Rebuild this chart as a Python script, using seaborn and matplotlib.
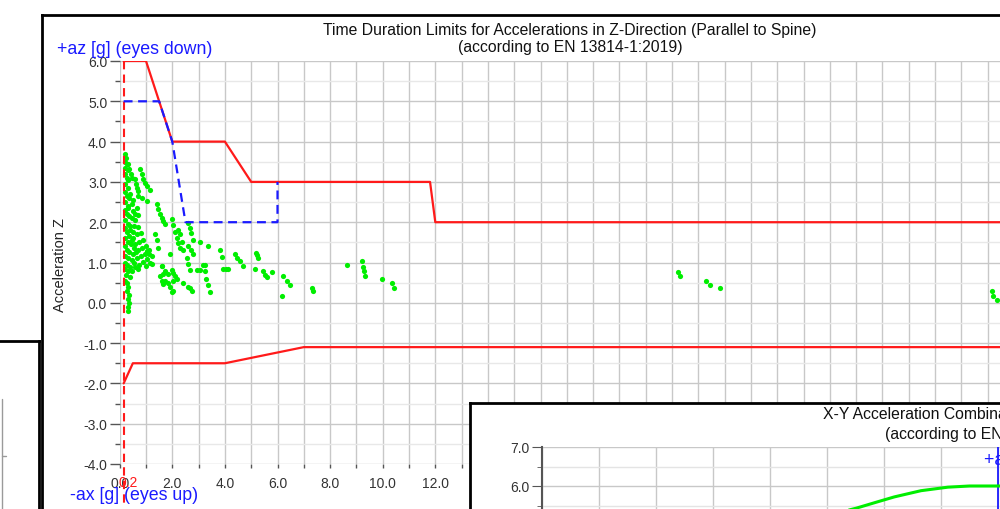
import matplotlib
matplotlib.use("Agg")
import numpy as np
import pandas as pd
import seaborn as sns
import matplotlib.pyplot as plt
from matplotlib.lines import Line2D
from matplotlib.ticker import MultipleLocator, FormatStrFormatter

sns.set_style("white")
plt.rcParams["font.family"] = ["Liberation Sans", "DejaVu Sans"]

# ---------------- data ----------------
# upper limit (solid red)
upper_t = [0.15, 1.0, 2.0, 4.0, 5.0, 11.8, 12.0, 34.5]
upper_z = [6.0, 6.0, 4.0, 4.0, 3.0, 3.0, 2.0, 2.0]
# lower limit (solid red)
lower_t = [0.15, 0.5, 4.0, 7.0, 34.5]
lower_z = [-2.0, -1.5, -1.5, -1.1, -1.1]
# reduced limit (dashed blue)
blue_t = [0.15, 1.5, 2.0, 2.5, 6.0, 6.0]
blue_z = [5.0, 5.0, 4.0, 2.0, 2.0, 3.0]
# minimum duration marker (dashed red)
tmin = 0.15

# measured accelerations (green points)
accel_t = [
    0.22, 0.25, 0.20, 0.28, 0.22, 0.30, 0.20, 0.26, 0.33, 0.22, 0.30, 0.20, 0.27, 0.35, 0.22,
    0.30, 0.20, 0.28, 0.36, 0.22, 0.30, 0.40, 0.20, 0.27, 0.35, 0.22, 0.30, 0.42, 0.20, 0.27,
    0.36, 0.22, 0.30, 0.45, 0.20, 0.28, 0.38, 0.22, 0.32, 0.25, 0.40, 0.20, 0.27, 0.32, 0.28,
    0.35, 0.33, 0.35, 0.30, 0.32,
    0.50, 0.55, 0.60, 0.48, 0.65, 0.70, 0.75, 0.55, 0.62, 0.45, 0.52, 0.58, 0.66, 0.45, 0.40, 0.50,
    0.30, 0.36, 0.42, 0.46,
    0.58, 0.62, 0.67, 0.71,
    0.77, 0.83, 0.90, 0.97, 1.05, 1.15,
    0.71, 0.85, 1.03,
    0.33, 0.50, 0.71,
    1.41, 1.47, 1.53, 1.60, 1.66, 1.72,
    0.46, 0.55, 0.65, 0.75, 0.85, 0.95, 1.05, 1.15, 1.22,
    0.40, 0.50, 0.60, 0.70, 0.80, 0.90, 1.00,
    0.60, 0.70, 0.80, 0.90, 1.00, 1.10,
    1.34, 1.40, 1.47,
    1.98, 2.03, 2.10, 2.17, 2.23, 2.29,
    2.20, 2.29, 2.35, 2.40,
    2.61, 2.66, 2.72, 2.80,
    2.61, 2.70, 2.80,
    2.55, 2.60, 2.67,
    1.91,
    1.60, 1.72, 1.85,
    2.04, 2.10, 2.17,
    1.85, 1.92, 1.98,
    2.42, 2.61, 2.67, 2.74,
    1.53, 1.60, 1.66,
    1.60, 1.66, 1.72,
    1.03, 1.12, 1.22,
    2.00, 2.02, 2.04,
    3.18, 3.24, 3.30, 3.36, 3.43, 2.93, 3.05,
    3.05, 3.37, 3.24,
    3.81, 3.88,
    3.94, 4.03, 4.13,
    4.38, 4.45, 4.57, 4.70,
    5.18, 5.22, 5.27, 5.14,
    5.46, 5.52, 5.59, 5.78,
    6.22, 6.35, 6.48, 6.16,
    7.30, 7.36,
    8.63, 9.20, 9.24, 9.28, 9.33, 9.96, 10.34, 10.44,
    21.24, 21.30, 22.29, 22.45, 22.82,
    33.16, 33.19, 33.35,
]
accel_z = [
    3.70, 3.60, 3.50, 3.45, 3.35, 3.30, 3.20, 3.10, 3.05, 2.95, 2.85, 2.75, 2.65, 2.60, 2.50,
    2.40, 2.30, 2.20, 2.15, 2.05, 1.95, 1.90, 1.85, 1.75, 1.65, 1.60, 1.50, 1.45, 1.40, 1.30,
    1.25, 1.15, 1.10, 1.05, 1.00, 0.95, 0.90, 0.85, 0.78, 0.70, 0.65, 0.55, 0.50, 0.40, 0.30,
    0.20, 0.10, 0.00, -0.10, -0.20,
    1.20, 1.00, 0.90, 0.80, 1.10, 0.85, 0.95, 1.35, 1.25, 1.55, 1.75, 2.20, 2.35, 2.45, 2.70, 2.55,
    3.45, 3.32, 3.20, 3.10,
    3.06, 2.95, 2.86, 2.77,
    3.31, 3.20, 3.08, 2.98, 2.90, 2.81,
    2.65, 2.60, 2.52,
    2.36, 2.28, 2.19,
    2.44, 2.32, 2.20, 2.10, 2.02, 1.95,
    2.11, 1.90, 1.70, 1.50, 1.35, 1.20, 1.08, 1.00, 0.96,
    1.80, 1.62, 1.45, 1.30, 1.15, 1.02, 0.92,
    2.05, 1.88, 1.72, 1.55, 1.42, 1.30,
    1.70, 1.55, 1.37,
    2.07, 1.92, 1.75, 1.60, 1.48, 1.37,
    1.80, 1.70, 1.50, 1.32,
    1.98, 1.85, 1.72, 1.57,
    1.40, 1.30, 1.20,
    1.11, 0.97, 0.82,
    1.20,
    0.92, 0.80, 0.71,
    0.75, 0.66, 0.58,
    0.50, 0.38, 0.26,
    0.48, 0.38, 0.37, 0.29,
    0.67, 0.55, 0.46,
    0.91, 0.72, 0.53,
    1.28, 1.20, 1.15,
    0.82, 0.55, 0.29,
    0.95, 0.78, 0.60, 0.45, 0.28, 0.82, 0.82,
    1.50, 1.40, 0.95,
    1.30, 1.13,
    0.84, 0.84, 0.84,
    1.22, 1.12, 1.03, 0.92,
    1.24, 1.18, 1.11, 0.84,
    0.78, 0.70, 0.64, 0.76,
    0.66, 0.55, 0.45, 0.18,
    0.37, 0.29,
    0.95, 1.03, 0.90, 0.78, 0.66, 0.58, 0.50, 0.37,
    0.76, 0.66, 0.55, 0.45, 0.37,
    0.29, 0.18, 0.08,
]

# second (X-Y) chart, partly visible
xy_x = [-2.9, -2.49, -2.1, -1.82, -1.35, -0.88, -0.5, 0.0, 0.5]
xy_y = [5.28, 5.43, 5.60, 5.72, 5.88, 5.97, 6.0, 6.0, 6.0]

RED = "#ff1a1a"
BLUE = "#1a1aff"
GREEN = "#00ee00"
W, H = 1000.0, 510.0


def fx(px):
    return px / W


def fy(py):
    return (H - py) / H


fig = plt.figure(figsize=(10, 5.1), dpi=100)
fig.patch.set_facecolor("white")


def window(rect, z):
    a = fig.add_axes(rect, zorder=z)
    a.set_facecolor("white")
    a.set_xticks([])
    a.set_yticks([])
    for s in a.spines.values():
        s.set_color("black")
        s.set_linewidth(2)
    return a


# background windows
window([fx(-20), fy(530), fx(59), (530 - 342) / H], -3)
fig.add_artist(Line2D([fx(2), fx(2)], [fy(400), fy(515)], color="#9a9a9a", lw=1, zorder=-2))
fig.add_artist(Line2D([fx(2), fx(6)], [fy(457), fy(457)], color="#9a9a9a", lw=1, zorder=-2))
window([fx(42), fy(530), fx(1000), (530 - 15.7) / H], -2)

# ---------------- main chart ----------------
x_px_per = 26.3
ax = fig.add_axes([fx(119.7), fy(465), 34.2 * x_px_per / W, (465 - 62) / H], zorder=1)
ax.set_facecolor("white")
ax.set_xlim(0, 34.2)
ax.set_ylim(-4.0, 6.0)
ax.set_axisbelow(True)
for s in ax.spines.values():
    s.set_visible(False)

ax.xaxis.set_major_locator(MultipleLocator(2))
ax.xaxis.set_minor_locator(MultipleLocator(1))
ax.yaxis.set_major_locator(MultipleLocator(1))
ax.yaxis.set_minor_locator(MultipleLocator(0.5))
ax.xaxis.set_major_formatter(FormatStrFormatter("%.1f"))
ax.yaxis.set_major_formatter(FormatStrFormatter("%.1f"))
ax.grid(True, which="major", axis="both", color="#c8c8c8", lw=1)
ax.grid(True, which="minor", axis="x", color="#c8c8c8", lw=1)
ax.grid(True, which="minor", axis="y", color="#e8e8e8", lw=1)
ax.tick_params(axis="y", which="major", length=7, width=1, color="#555555",
               labelsize=10, labelcolor="#333333", pad=2, left=True)
ax.tick_params(axis="y", which="minor", length=3.5, width=1, color="#555555", left=True)
ax.tick_params(axis="x", which="both", length=3, width=1, color="#555555",
               labelsize=10, labelcolor="#333333", pad=6, bottom=True)

sns.lineplot(x=[tmin, tmin], y=[6.0, -5.05], ax=ax, color=RED, lw=1.5,
             linestyle=(0, (4, 2.5)), sort=False, estimator=None, clip_on=False, zorder=4)
sns.lineplot(x=upper_t, y=upper_z, ax=ax, color=RED, lw=1.6, sort=False, estimator=None, zorder=4)
sns.lineplot(x=lower_t, y=lower_z, ax=ax, color=RED, lw=1.6, sort=False, estimator=None, zorder=4)
sns.lineplot(x=blue_t, y=blue_z, ax=ax, color=BLUE, lw=1.6, linestyle=(0, (4, 2.5)),
             sort=False, estimator=None, zorder=4)
sns.scatterplot(x=accel_t, y=accel_z, ax=ax, color=GREEN, s=14, linewidth=0, zorder=3)
ax.set_xlabel("")
ax.set_ylabel("")

ax.annotate("0.2", xy=(tmin, -4.0), xytext=(3, -8.2), textcoords="offset points",
            ha="center", va="top", color=RED, fontsize=10, annotation_clip=False)

fig.text(fx(570), fy(39), "Time Duration Limits for Accelerations in Z-Direction (Parallel to Spine)\n"
         "(according to EN 13814-1:2019)", ha="center", va="center", fontsize=11.3,
         linespacing=1.15, color="#111111")
fig.text(fx(57), fy(50), "+az [g] (eyes down)", ha="left", va="center", fontsize=12.8, color=BLUE)
fig.text(fx(70), fy(496), "-ax [g] (eyes up)", ha="left", va="center", fontsize=12.8, color=BLUE)
fig.text(fx(60), fy(265), "Acceleration Z", rotation=90, ha="center", va="center",
         fontsize=10.5, color="#222222")

# ---------------- overlapping X-Y window ----------------
window([fx(470), fy(530), fx(600), (530 - 404) / H], 5)
ax2 = fig.add_axes([fx(542), fy(545.5), 8.5 * 57 / W, 97.5 / H], zorder=6)
ax2.set_facecolor("none")
ax2.set_xlim(-8, 0.5)
ax2.set_ylim(4.5, 7.0)
ax2.set_axisbelow(True)
for k, s in ax2.spines.items():
    s.set_visible(k == "left")
ax2.spines["left"].set_color("#555555")
ax2.spines["left"].set_linewidth(1.5)
ax2.xaxis.set_major_locator(MultipleLocator(1))
ax2.yaxis.set_major_locator(MultipleLocator(1))
ax2.yaxis.set_minor_locator(MultipleLocator(0.5))
ax2.yaxis.set_major_formatter(FormatStrFormatter("%.1f"))
ax2.grid(True, which="major", axis="both", color="#c8c8c8", lw=1)
ax2.grid(True, which="minor", axis="y", color="#e4e4e4", lw=1)
ax2.tick_params(axis="x", which="both", bottom=False, labelbottom=False)
ax2.tick_params(axis="y", which="major", length=7, color="#555555", labelsize=10,
                labelcolor="#333333", pad=2, left=True)
ax2.tick_params(axis="y", which="minor", length=3.5, color="#555555", left=True)
ax2.axvline(0, color=BLUE, lw=1.3, zorder=3)
sns.lineplot(x=xy_x, y=xy_y, ax=ax2, color=GREEN, lw=2.2, sort=False, estimator=None, zorder=4)
ax2.set_xlabel("")
ax2.set_ylabel("")
ax2.text(-0.25, 6.69, "+ay [g]", color=BLUE, fontsize=12.8, ha="left", va="center")

fig.text(fx(823), fy(415), "X-Y Acceleration Combinations", ha="left", va="center",
         fontsize=11.3, color="#111111", zorder=7)
fig.text(fx(885), fy(435), "(according to EN 13814-1:2019)", ha="left", va="center",
         fontsize=11.3, color="#111111", zorder=7)

fig.savefig("out.png", dpi=100, facecolor="white")
